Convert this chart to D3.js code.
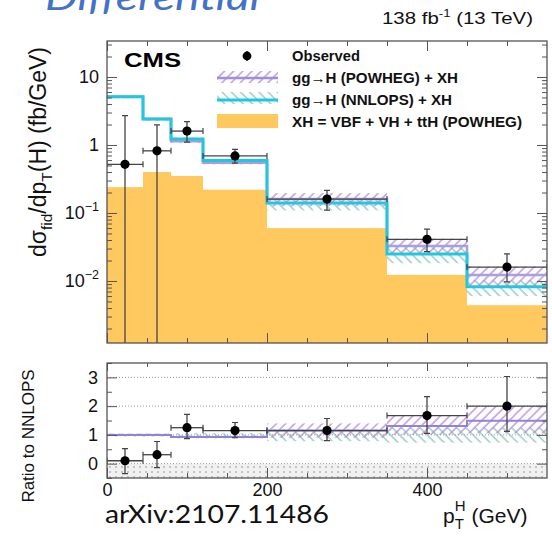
<!DOCTYPE html>
<html>
<head>
<meta charset="utf-8">
<script src="https://cdn.jsdelivr.net/npm/d3@7"></script>
<style>
body { margin: 0; background: #fff; }
svg { display: block; }
</style>
</head>
<body>
<svg></svg>
<script>
// bins in pT(H), GeV (last bin drawn up to 550)
var binEdges = [0, 45, 80, 120, 200, 350, 450, 550];

// top panel, fb/GeV
var observed    = [0.52, 0.82, 1.6, 0.69, 0.16, 0.041, 0.016];
var observedUp  = [2.7, 1.97, 2.2, 0.86, 0.215, 0.058, 0.025];
var observedLow = [0, 0, 1.1, 0.54, 0.11, 0.027, 0.0097];   // 0 = below the axis
var nnlops      = [5.1, 2.4, 1.22, 0.59, 0.14, 0.025, 0.0082];
var xhOnly      = [0.24, 0.40, 0.35, 0.22, 0.06, 0.0123, 0.0044];

// ratio to NNLOPS
var powhegRatio   = [1.0, 1.0, 0.93, 0.93, 1.15, 1.31, 1.49];
var powhegBandLo  = [0.95, 0.95, 0.88, 0.88, 0.9, 1.0, 1.05];
var powhegBandHi  = [1.05, 1.05, 0.98, 0.98, 1.4, 1.68, 2.0];
var nnlopsBandLo  = [0.95, 0.95, 0.9, 0.9, 0.78, 0.73, 0.73];
var nnlopsBandHi  = [1.05, 1.05, 1.06, 1.06, 1.2, 1.25, 1.25];
var ratioObs      = [0.1, 0.31, 1.25, 1.15, 1.15, 1.67, 2.0];
var ratioUp       = [0.52, 0.77, 1.71, 1.43, 1.57, 2.33, 3.03];
var ratioLow      = [-0.35, -0.14, 0.87, 0.9, 0.8, 1.05, 1.12];

var logMajor = [0.01, 0.1, 1, 10];
var ratioTicks = [0, 1, 2, 3];
var xMajor = [0, 200, 400];

var svg = d3.select("svg").attr("width", 552).attr("height", 541);
var font = "'Liberation Sans', Arial, sans-serif";

var x = d3.scaleLinear().domain([0, 550]).range([107, 547]);
var y = d3.scaleLog().domain([0.001225, 33.8]).range([343, 41]);
var yr = d3.scaleLinear().domain([-0.5, 3.5]).range([478, 363]);

var bins = d3.range(observed.length).map(function(i) {
    return {i: i, x0: binEdges[i], x1: binEdges[i + 1], xc: (binEdges[i] + binEdges[i + 1]) / 2};
});
bins[bins.length - 1].xc = 500;

// patterns
var defs = svg.append("defs");
function hatch(id, color, angle) {
    var p = defs.append("pattern").attr("id", id)
        .attr("patternUnits", "userSpaceOnUse")
        .attr("width", 6.5).attr("height", 6.5)
        .attr("patternTransform", "rotate(" + angle + ")");
    p.append("line").attr("x1", 1).attr("y1", 0).attr("x2", 1).attr("y2", 6.5)
        .attr("stroke", color).attr("stroke-width", 1.2);
}
hatch("hPow", "#b07fd6", 45);
hatch("hNn", "#7fc2b4", -45);
var gp = defs.append("pattern").attr("id", "hGray")
    .attr("patternUnits", "userSpaceOnUse").attr("width", 6).attr("height", 5);
gp.append("rect").attr("width", 6).attr("height", 5).attr("fill", "#f1f1f1");
gp.append("path").attr("d", "M1,1L3,3M3,1L1,3").attr("stroke", "#b0b0b0").attr("stroke-width", 0.7);

defs.append("clipPath").attr("id", "clipTop").append("rect")
    .attr("x", 107).attr("y", 41).attr("width", 440).attr("height", 302);
defs.append("clipPath").attr("id", "clipRat").append("rect")
    .attr("x", 107).attr("y", 363).attr("width", 440).attr("height", 115);

function ypos(v) { return v > 0 ? y(v) : y.range()[0] + 5; }

function stepPath(scale, vals) {
    var pts = vals.map(function(v, i) { return [binEdges[i], v]; });
    pts.push([binEdges[vals.length], vals[vals.length - 1]]);
    return d3.line().x(function(d) { return x(d[0]); }).y(function(d) { return scale(d[1]); })
        .curve(d3.curveStepAfter)(pts);
}

// ---------- top panel ----------
var topG = svg.append("g").attr("clip-path", "url(#clipTop)");

topG.selectAll("rect.xh").data(bins).enter().append("rect")
    .attr("x", function(d) { return x(d.x0); })
    .attr("width", function(d) { return x(d.x1) - x(d.x0); })
    .attr("y", function(d) { return y(xhOnly[d.i]); })
    .attr("height", function(d) { return 343 - y(xhOnly[d.i]); })
    .attr("fill", "#ffc95f");

topG.selectAll("rect.nb").data(bins).enter().append("rect")
    .attr("x", function(d) { return x(d.x0); })
    .attr("width", function(d) { return x(d.x1) - x(d.x0); })
    .attr("y", function(d) { return y(nnlops[d.i] * nnlopsBandHi[d.i]); })
    .attr("height", function(d) { return y(nnlops[d.i] * nnlopsBandLo[d.i]) - y(nnlops[d.i] * nnlopsBandHi[d.i]); })
    .attr("fill", "url(#hNn)");

topG.selectAll("rect.pb").data(bins).enter().append("rect")
    .attr("x", function(d) { return x(d.x0); })
    .attr("width", function(d) { return x(d.x1) - x(d.x0); })
    .attr("y", function(d) { return y(nnlops[d.i] * powhegBandHi[d.i]); })
    .attr("height", function(d) { return y(nnlops[d.i] * powhegBandLo[d.i]) - y(nnlops[d.i] * powhegBandHi[d.i]); })
    .attr("fill", "url(#hPow)");

var powhegTop = nnlops.map(function(v, i) { return v * powhegRatio[i]; });
topG.append("path").attr("d", stepPath(y, powhegTop))
    .attr("fill", "none").attr("stroke", "#a89ee0").attr("stroke-width", 2.5);
topG.append("path").attr("d", stepPath(y, nnlops))
    .attr("fill", "none").attr("stroke", "#22c6de").attr("stroke-width", 3);

function drawPoints(g, scale, vals, up, low, lowFn) {
    var pts = g.selectAll("g.obs").data(bins).enter().append("g");
    pts.append("line")
        .attr("x1", function(d) { return x(d.x0); }).attr("x2", function(d) { return x(d.x1); })
        .attr("y1", function(d) { return scale(vals[d.i]); }).attr("y2", function(d) { return scale(vals[d.i]); })
        .attr("stroke", "#444").attr("stroke-width", 1.3);
    pts.append("path")
        .attr("d", function(d) {
            var yy = scale(vals[d.i]);
            return "M" + x(d.x0) + "," + (yy - 3) + "V" + (yy + 3) + "M" + x(d.x1) + "," + (yy - 3) + "V" + (yy + 3);
        })
        .attr("stroke", "#444").attr("stroke-width", 1.2);
    pts.append("line")
        .attr("x1", function(d) { return x(d.xc); }).attr("x2", function(d) { return x(d.xc); })
        .attr("y1", function(d) { return scale(up[d.i]); }).attr("y2", function(d) { return lowFn(low[d.i]); })
        .attr("stroke", "#444").attr("stroke-width", 1.3);
    pts.append("path")
        .attr("d", function(d) {
            var xx = x(d.xc), a = scale(up[d.i]), b = lowFn(low[d.i]);
            return "M" + (xx - 3) + "," + a + "H" + (xx + 3) + "M" + (xx - 3) + "," + b + "H" + (xx + 3);
        })
        .attr("stroke", "#444").attr("stroke-width", 1.2);
    pts.append("circle")
        .attr("cx", function(d) { return x(d.xc); })
        .attr("cy", function(d) { return scale(vals[d.i]); })
        .attr("r", 4.6).attr("fill", "#000");
}
drawPoints(topG, y, observed, observedUp, observedLow, ypos);

// ---------- ratio panel ----------
var rat = svg.append("g").attr("clip-path", "url(#clipRat)");
rat.append("rect").attr("x", 107).attr("width", 440)
    .attr("y", yr(0)).attr("height", yr(-0.5) - yr(0)).attr("fill", "url(#hGray)");
rat.selectAll("line.grid").data(ratioTicks).enter().append("line")
    .attr("x1", 107).attr("x2", 547)
    .attr("y1", function(d) { return yr(d); }).attr("y2", function(d) { return yr(d); })
    .attr("stroke", "#999").attr("stroke-width", 1).attr("stroke-dasharray", "1,2");

rat.selectAll("rect.nb").data(bins).enter().append("rect")
    .attr("x", function(d) { return x(d.x0); })
    .attr("width", function(d) { return x(d.x1) - x(d.x0); })
    .attr("y", function(d) { return yr(nnlopsBandHi[d.i]); })
    .attr("height", function(d) { return yr(nnlopsBandLo[d.i]) - yr(nnlopsBandHi[d.i]); })
    .attr("fill", "url(#hNn)");
rat.selectAll("rect.pb").data(bins).enter().append("rect")
    .attr("x", function(d) { return x(d.x0); })
    .attr("width", function(d) { return x(d.x1) - x(d.x0); })
    .attr("y", function(d) { return yr(powhegBandHi[d.i]); })
    .attr("height", function(d) { return yr(powhegBandLo[d.i]) - yr(powhegBandHi[d.i]); })
    .attr("fill", "url(#hPow)");
rat.append("path").attr("d", stepPath(yr, powhegRatio))
    .attr("fill", "none").attr("stroke", "#8f84d6").attr("stroke-width", 2);
drawPoints(rat, yr, ratioObs, ratioUp, ratioLow, yr);

// ---------- axes / frames ----------
function logMinor() {
    var t = [];
    [0.001, 0.01, 0.1, 1, 10].forEach(function(dec) {
        for (var k = 2; k <= 9; k++) {
            var v = dec * k;
            if (v > y.domain()[0] && v < y.domain()[1]) t.push(v);
        }
    });
    return t;
}
function addAxis(axis, tx, ty) {
    var g = svg.append("g").attr("transform", "translate(" + tx + "," + ty + ")").call(axis);
    g.select(".domain").remove();
    g.selectAll(".tick line").attr("stroke", "#555").attr("stroke-width", 1);
    g.selectAll("text").attr("font-family", font).attr("font-size", 18).attr("fill", "#111");
    return g;
}
var xMinor = d3.range(50, 550, 50).filter(function(v) { return xMajor.indexOf(v) < 0; });

// top panel ticks
addAxis(d3.axisLeft(y).tickValues(logMajor).tickSize(-10).tickFormat(""), 107, 0);
addAxis(d3.axisLeft(y).tickValues(logMinor()).tickSize(-5).tickFormat(""), 107, 0);
addAxis(d3.axisRight(y).tickValues(logMajor).tickSize(-10).tickFormat(""), 547, 0);
addAxis(d3.axisRight(y).tickValues(logMinor()).tickSize(-5).tickFormat(""), 547, 0);
addAxis(d3.axisTop(x).tickValues(xMajor).tickSize(-10).tickFormat(""), 0, 41);
addAxis(d3.axisTop(x).tickValues(xMinor).tickSize(-5).tickFormat(""), 0, 41);
addAxis(d3.axisBottom(x).tickValues(xMajor).tickSize(-10).tickFormat(""), 0, 343);
addAxis(d3.axisBottom(x).tickValues(xMinor).tickSize(-5).tickFormat(""), 0, 343);

// ratio panel ticks
addAxis(d3.axisLeft(yr).tickValues(ratioTicks).tickSize(-10).tickPadding(9).tickFormat(d3.format("d")), 107, 0);
addAxis(d3.axisLeft(yr).tickValues([-0.5, 0.5, 1.5, 2.5, 3.5]).tickSize(-5).tickFormat(""), 107, 0);
addAxis(d3.axisRight(yr).tickValues(ratioTicks).tickSize(-10).tickFormat(""), 547, 0);
addAxis(d3.axisRight(yr).tickValues([0.5, 1.5, 2.5]).tickSize(-5).tickFormat(""), 547, 0);
addAxis(d3.axisTop(x).tickValues(xMajor).tickSize(-8).tickFormat(""), 0, 363);
addAxis(d3.axisTop(x).tickValues(xMinor).tickSize(-4).tickFormat(""), 0, 363);
addAxis(d3.axisBottom(x).tickValues(xMajor).tickSize(-10).tickPadding(5).tickFormat(d3.format("d")), 0, 478);
addAxis(d3.axisBottom(x).tickValues(xMinor).tickSize(-5).tickFormat(""), 0, 478);

svg.append("rect").attr("x", 107).attr("y", 41).attr("width", 440).attr("height", 302)
    .attr("fill", "none").attr("stroke", "#555").attr("stroke-width", 1.3);
svg.append("rect").attr("x", 107).attr("y", 363).attr("width", 440).attr("height", 115)
    .attr("fill", "none").attr("stroke", "#555").attr("stroke-width", 1.3);

// log tick labels with exponents
logMajor.forEach(function(v) {
    var t = svg.append("text").attr("x", 99).attr("y", y(v) + 6.5)
        .attr("text-anchor", "end").attr("font-family", font).attr("font-size", 18).attr("fill", "#111");
    var e = Math.round(Math.log10(v));
    if (e === 0) t.text("1");
    else if (e === 1) t.text("10");
    else {
        t.append("tspan").text("10");
        t.append("tspan").attr("dy", -8).attr("font-size", 12.5).text("\u2212" + (-e));
    }
});

// ---------- text ----------
function txt(s, xx, yy, size, opts) {
    opts = opts || {};
    return svg.append("text").attr("x", xx).attr("y", yy)
        .attr("font-family", opts.family || font).attr("font-size", size)
        .attr("font-weight", opts.weight || "normal").attr("font-style", opts.style || "normal")
        .attr("fill", opts.fill || "#111").attr("text-anchor", opts.anchor || "start")
        .text(s);
}

// slide title, partly cut off by the top edge as in the screenshot
txt("Differential", 45, 10, 36, {family: "Lato, 'Open Sans', sans-serif", style: "italic", fill: "#4472c4"})
    .attr("textLength", 215).attr("lengthAdjust", "spacingAndGlyphs");

var lumi = svg.append("text").attr("x", 382).attr("y", 24)
    .attr("font-family", font).attr("font-size", 17).attr("fill", "#111")
    .attr("textLength", 151).attr("lengthAdjust", "spacingAndGlyphs");
lumi.append("tspan").text("138 fb");
lumi.append("tspan").attr("dy", -7).attr("font-size", 11).text("-1");
lumi.append("tspan").attr("dy", 7).text(" (13 TeV)");

txt("CMS", 124, 67, 21, {weight: "bold", fill: "#000"})
    .attr("textLength", 57).attr("lengthAdjust", "spacingAndGlyphs");

// legend
var legX = 217, legW = 61;
svg.append("line").attr("x1", 247).attr("x2", 247).attr("y1", 51).attr("y2", 61)
    .attr("stroke", "#000").attr("stroke-width", 1.3);
svg.append("circle").attr("cx", 247).attr("cy", 56).attr("r", 4.4).attr("fill", "#000");
svg.append("rect").attr("x", legX).attr("y", 71).attr("width", legW).attr("height", 12).attr("fill", "url(#hPow)");
svg.append("line").attr("x1", legX).attr("x2", legX + legW).attr("y1", 78).attr("y2", 78)
    .attr("stroke", "#9d8fdc").attr("stroke-width", 2.5);
svg.append("rect").attr("x", legX).attr("y", 92).attr("width", legW).attr("height", 12).attr("fill", "url(#hNn)");
svg.append("line").attr("x1", legX).attr("x2", legX + legW).attr("y1", 100).attr("y2", 100)
    .attr("stroke", "#22c6de").attr("stroke-width", 3);
svg.append("rect").attr("x", legX).attr("y", 114).attr("width", legW).attr("height", 14).attr("fill", "#ffc95f");

var legLabels = ["Observed", "gg\u2192H (POWHEG) + XH", "gg\u2192H (NNLOPS) + XH", "XH = VBF + VH + ttH (POWHEG)"];
var legY = [61, 83, 105, 127];
var legLen = [68, 166, 160, 230];
legLabels.forEach(function(s, i) {
    txt(s, 292, legY[i], 14.5, {weight: "bold", fill: "#111"})
        .attr("textLength", legLen[i]).attr("lengthAdjust", "spacingAndGlyphs");
});

// y label top
var yl = svg.append("text").attr("transform", "translate(46,152) rotate(-90)")
    .attr("text-anchor", "middle").attr("font-family", font).attr("font-size", 23).attr("fill", "#111");
yl.append("tspan").text("d\u03c3");
yl.append("tspan").attr("dy", 6).attr("font-size", 15.5).text("fid");
yl.append("tspan").attr("dy", -6).text("/dp");
yl.append("tspan").attr("dy", 6).attr("font-size", 15.5).text("T");
yl.append("tspan").attr("dy", -6).text("(H) (fb/GeV)");

svg.append("text").attr("transform", "translate(34,436) rotate(-90)")
    .attr("text-anchor", "middle").attr("font-family", font).attr("font-size", 17).attr("fill", "#111")
    .text("Ratio to NNLOPS");

txt("arXiv:2107.11486", 105, 523, 25, {family: "Lato, 'Open Sans', sans-serif", fill: "#111"})
    .attr("textLength", 224).attr("lengthAdjust", "spacingAndGlyphs");

var xl = svg.append("text").attr("x", 443).attr("y", 523)
    .attr("font-family", font).attr("font-size", 21).attr("fill", "#111");
xl.append("tspan").text("p");
xl.append("tspan").attr("dy", 6).attr("font-size", 15).text("T");
xl.append("tspan").attr("dx", -9).attr("dy", -18).attr("font-size", 15).text("H");
xl.append("tspan").attr("dy", 12).text(" (GeV)");
</script>
</body>
</html>
